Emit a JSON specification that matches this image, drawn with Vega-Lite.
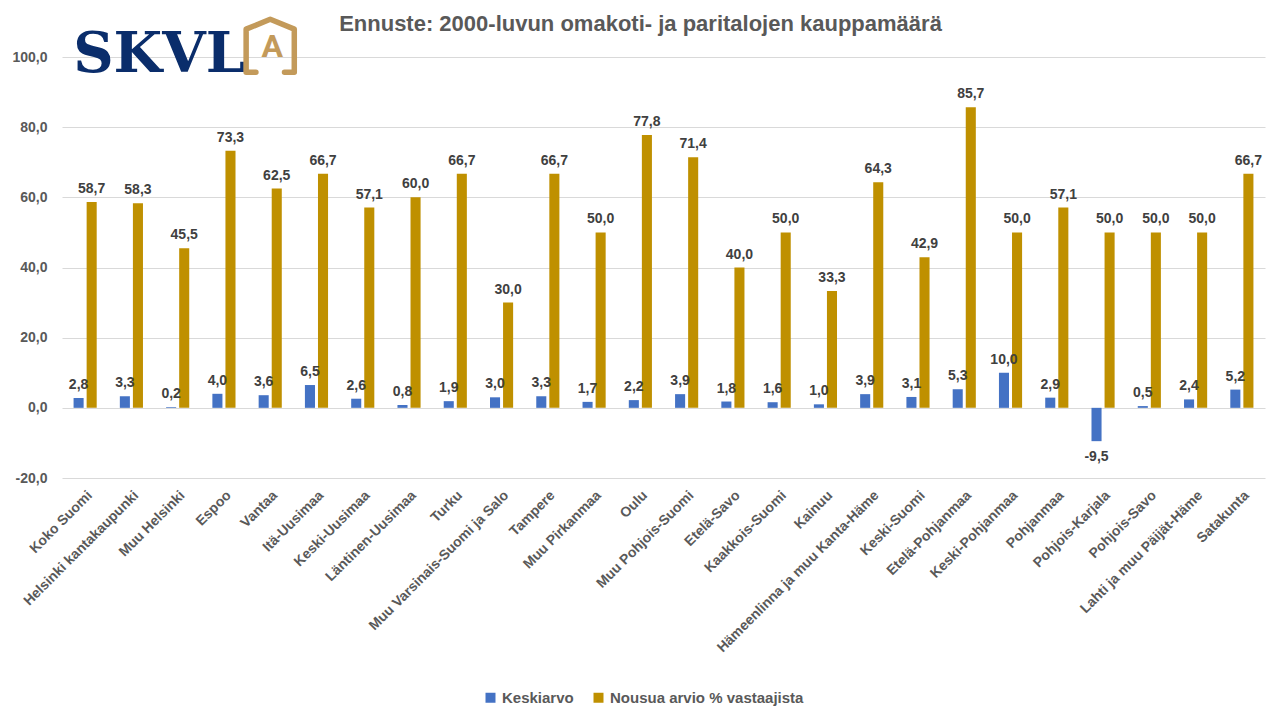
{
  "$schema": "https://vega.github.io/schema/vega-lite/v6.json",
  "description": "Ennuste: 2000-luvun omakoti- ja paritalojen kauppamäärä, ryhmitelty pylväskaavio",
  "autosize": "none",
  "width": 1203,
  "height": 421,
  "padding": {"left": 62, "top": 57, "right": 15, "bottom": 242},
  "background": "white",
  "title": {
    "text": "Ennuste: 2000-luvun omakoti- ja paritalojen kauppamäärä",
    "anchor": "middle",
    "frame": "group",
    "dx": -23,
    "offset": -19,
    "fontSize": 22,
    "font": "Liberation Sans",
    "fontWeight": "bold",
    "color": "#595959"
  },
  "config": {
    "view": {"stroke": "transparent"},
    "font": "Liberation Sans",
    "locale": {
      "number": {"decimal": ",", "thousands": " ", "grouping": [3], "currency": ["", " €"], "minus": "-"}
    }
  },
  "datasets": {
    "ennuste": [
      {"alue": "Koko Suomi", "sarja": "Keskiarvo", "arvo": 2.8},
      {"alue": "Koko Suomi", "sarja": "Nousua arvio % vastaajista", "arvo": 58.7},
      {"alue": "Helsinki kantakaupunki", "sarja": "Keskiarvo", "arvo": 3.3},
      {"alue": "Helsinki kantakaupunki", "sarja": "Nousua arvio % vastaajista", "arvo": 58.3},
      {"alue": "Muu Helsinki", "sarja": "Keskiarvo", "arvo": 0.2},
      {"alue": "Muu Helsinki", "sarja": "Nousua arvio % vastaajista", "arvo": 45.5},
      {"alue": "Espoo", "sarja": "Keskiarvo", "arvo": 4.0},
      {"alue": "Espoo", "sarja": "Nousua arvio % vastaajista", "arvo": 73.3},
      {"alue": "Vantaa", "sarja": "Keskiarvo", "arvo": 3.6},
      {"alue": "Vantaa", "sarja": "Nousua arvio % vastaajista", "arvo": 62.5},
      {"alue": "Itä-Uusimaa", "sarja": "Keskiarvo", "arvo": 6.5},
      {"alue": "Itä-Uusimaa", "sarja": "Nousua arvio % vastaajista", "arvo": 66.7},
      {"alue": "Keski-Uusimaa", "sarja": "Keskiarvo", "arvo": 2.6},
      {"alue": "Keski-Uusimaa", "sarja": "Nousua arvio % vastaajista", "arvo": 57.1},
      {"alue": "Läntinen-Uusimaa", "sarja": "Keskiarvo", "arvo": 0.8},
      {"alue": "Läntinen-Uusimaa", "sarja": "Nousua arvio % vastaajista", "arvo": 60.0},
      {"alue": "Turku", "sarja": "Keskiarvo", "arvo": 1.9},
      {"alue": "Turku", "sarja": "Nousua arvio % vastaajista", "arvo": 66.7},
      {"alue": "Muu Varsinais-Suomi ja Salo", "sarja": "Keskiarvo", "arvo": 3.0},
      {"alue": "Muu Varsinais-Suomi ja Salo", "sarja": "Nousua arvio % vastaajista", "arvo": 30.0},
      {"alue": "Tampere", "sarja": "Keskiarvo", "arvo": 3.3},
      {"alue": "Tampere", "sarja": "Nousua arvio % vastaajista", "arvo": 66.7},
      {"alue": "Muu Pirkanmaa", "sarja": "Keskiarvo", "arvo": 1.7},
      {"alue": "Muu Pirkanmaa", "sarja": "Nousua arvio % vastaajista", "arvo": 50.0},
      {"alue": "Oulu", "sarja": "Keskiarvo", "arvo": 2.2},
      {"alue": "Oulu", "sarja": "Nousua arvio % vastaajista", "arvo": 77.8},
      {"alue": "Muu Pohjois-Suomi", "sarja": "Keskiarvo", "arvo": 3.9},
      {"alue": "Muu Pohjois-Suomi", "sarja": "Nousua arvio % vastaajista", "arvo": 71.4},
      {"alue": "Etelä-Savo", "sarja": "Keskiarvo", "arvo": 1.8},
      {"alue": "Etelä-Savo", "sarja": "Nousua arvio % vastaajista", "arvo": 40.0},
      {"alue": "Kaakkois-Suomi", "sarja": "Keskiarvo", "arvo": 1.6},
      {"alue": "Kaakkois-Suomi", "sarja": "Nousua arvio % vastaajista", "arvo": 50.0},
      {"alue": "Kainuu", "sarja": "Keskiarvo", "arvo": 1.0},
      {"alue": "Kainuu", "sarja": "Nousua arvio % vastaajista", "arvo": 33.3},
      {"alue": "Hämeenlinna ja muu Kanta-Häme", "sarja": "Keskiarvo", "arvo": 3.9},
      {"alue": "Hämeenlinna ja muu Kanta-Häme", "sarja": "Nousua arvio % vastaajista", "arvo": 64.3},
      {"alue": "Keski-Suomi", "sarja": "Keskiarvo", "arvo": 3.1},
      {"alue": "Keski-Suomi", "sarja": "Nousua arvio % vastaajista", "arvo": 42.9},
      {"alue": "Etelä-Pohjanmaa", "sarja": "Keskiarvo", "arvo": 5.3},
      {"alue": "Etelä-Pohjanmaa", "sarja": "Nousua arvio % vastaajista", "arvo": 85.7},
      {"alue": "Keski-Pohjanmaa", "sarja": "Keskiarvo", "arvo": 10.0},
      {"alue": "Keski-Pohjanmaa", "sarja": "Nousua arvio % vastaajista", "arvo": 50.0},
      {"alue": "Pohjanmaa", "sarja": "Keskiarvo", "arvo": 2.9},
      {"alue": "Pohjanmaa", "sarja": "Nousua arvio % vastaajista", "arvo": 57.1},
      {"alue": "Pohjois-Karjala", "sarja": "Keskiarvo", "arvo": -9.5},
      {"alue": "Pohjois-Karjala", "sarja": "Nousua arvio % vastaajista", "arvo": 50.0},
      {"alue": "Pohjois-Savo", "sarja": "Keskiarvo", "arvo": 0.5},
      {"alue": "Pohjois-Savo", "sarja": "Nousua arvio % vastaajista", "arvo": 50.0},
      {"alue": "Lahti ja muu Päijät-Häme", "sarja": "Keskiarvo", "arvo": 2.4},
      {"alue": "Lahti ja muu Päijät-Häme", "sarja": "Nousua arvio % vastaajista", "arvo": 50.0},
      {"alue": "Satakunta", "sarja": "Keskiarvo", "arvo": 5.2},
      {"alue": "Satakunta", "sarja": "Nousua arvio % vastaajista", "arvo": 66.7}
    ],
    "logo": [{"teksti": "SKVL", "kirjain": "A"}]
  },
  "encoding": {
    "x": {
      "field": "alue",
      "type": "nominal",
      "sort": null,
      "scale": {"paddingInner": 0.5, "paddingOuter": 0.25},
      "axis": {
        "title": null,
        "labelAngle": -45,
        "labelAlign": "right",
        "labelBaseline": "top",
        "labelPadding": 10,
        "labelFontSize": 14,
        "labelFontWeight": "bold",
        "labelColor": "#595959",
        "labelOverlap": false,
        "labelLimit": 300,
        "domain": false,
        "ticks": false,
        "grid": false
      }
    },
    "y": {
      "type": "quantitative",
      "scale": {"domain": [-20, 100], "nice": false},
      "axis": {
        "title": null,
        "values": [-20, 0, 20, 40, 60, 80, 100],
        "format": ".1f",
        "labelFontSize": 14,
        "labelFontWeight": "bold",
        "labelColor": "#595959",
        "labelPadding": 15,
        "domain": false,
        "ticks": false,
        "gridColor": "#D9D9D9",
        "gridWidth": 1
      }
    }
  },
  "layer": [
    {
      "data": {"name": "ennuste"},
      "mark": {"type": "bar"},
      "encoding": {
        "y": {"field": "arvo"},
        "xOffset": {"field": "sarja", "scale": {"paddingInner": 0.23}},
        "color": {
          "field": "sarja",
          "type": "nominal",
          "scale": {"range": ["#4472C4", "#BF9000"]},
          "legend": {
            "title": null,
            "orient": "none",
            "direction": "horizontal",
            "legendX": 421,
            "legendY": 633,
            "symbolType": "square",
            "symbolSize": 100,
            "symbolStrokeWidth": 0,
            "labelFontSize": 15,
            "labelFontWeight": "bold",
            "labelColor": "#595959",
            "labelLimit": 400,
            "columnPadding": 17
          }
        }
      }
    },
    {
      "data": {"name": "ennuste"},
      "transform": [{"filter": "datum.arvo >= 0"}],
      "mark": {"type": "text", "baseline": "alphabetic", "dy": -9, "fontSize": 14, "fontWeight": "bold", "color": "#404040"},
      "encoding": {
        "y": {"field": "arvo"},
        "xOffset": {"field": "sarja"},
        "text": {"field": "arvo", "type": "quantitative", "format": ".1f"}
      }
    },
    {
      "data": {"name": "ennuste"},
      "transform": [{"filter": "datum.arvo < 0"}],
      "mark": {"type": "text", "baseline": "top", "dy": 9, "fontSize": 14, "fontWeight": "bold", "color": "#404040"},
      "encoding": {
        "y": {"field": "arvo"},
        "xOffset": {"field": "sarja"},
        "text": {"field": "arvo", "type": "quantitative", "format": ".1f"}
      }
    },
    {
      "data": {"name": "logo"},
      "mark": {"type": "text", "align": "left", "baseline": "alphabetic", "dx": -12, "font": "DejaVu Serif", "fontSize": 56, "fontWeight": "bold", "color": "#0A2D6B", "clip": false},
      "encoding": {
        "x": {"datum": "Koko Suomi"},
        "y": {"datum": 95.7},
        "text": {"field": "teksti"}
      }
    },
    {
      "data": {"name": "logo"},
      "mark": {"type": "point", "shape": "M-0.54,1L-0.91,1L-0.91,-0.63L0,-1L0.91,-0.63L0.91,1L0.54,1", "size": 2800, "filled": false, "color": "#C39A5A", "strokeWidth": 5.5, "strokeCap": "round", "strokeJoin": "round", "opacity": 1, "clip": false},
      "encoding": {
        "x": {"datum": "Vantaa"},
        "y": {"datum": 103.2}
      }
    },
    {
      "data": {"name": "logo"},
      "mark": {"type": "text", "baseline": "middle", "align": "center", "dx": 2, "font": "Roboto", "fontSize": 32, "fontWeight": "bold", "color": "#C39A5A", "clip": false},
      "encoding": {
        "x": {"datum": "Vantaa"},
        "y": {"datum": 102.8},
        "text": {"field": "kirjain"}
      }
    }
  ]
}
